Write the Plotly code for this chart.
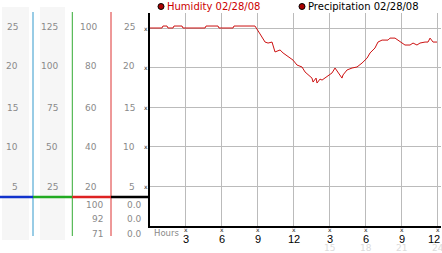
import plotly.graph_objects as go

W, H = 442, 253

# ---- data ----
hours = [0.0, 1.04, 1.12, 1.46, 1.54, 1.96, 2.04, 2.71, 2.79, 4.63, 4.71, 5.71, 5.79, 6.96, 7.04, 8.79,
         9.21, 9.63, 9.88, 10.21, 10.46, 10.88, 11.13, 11.54, 11.71, 11.96, 12.29, 12.71, 12.96, 13.21,
         13.54, 13.63, 13.88, 13.96, 14.21, 14.38, 14.79, 15.21, 15.46, 15.71, 16.04, 16.13, 16.46,
         16.88, 17.29, 17.71, 18.13, 18.38, 18.79, 19.04, 19.38, 19.88, 20.04, 20.46, 20.88, 21.29,
         21.71, 21.96, 22.29, 22.54, 22.96, 23.21, 23.38, 23.63, 23.96]
humidity = [100, 100, 101, 101, 100, 100, 101, 101, 100, 100, 101, 101, 100, 100, 101, 101,
            97, 92.9, 92.4, 92.9, 87.9, 88.9, 87.4, 85.4, 84.8, 83.8, 81.3, 80.3, 77.8, 76.3,
            74.7, 72.7, 74.7, 72.2, 74.2, 73.7, 75.3, 77.3, 79.8, 77.3, 74.7, 76.3, 78.8,
            79.8, 80.3, 82.3, 84.8, 87.4, 89.9, 92.9, 93.9, 93.9, 94.9, 94.9, 92.9, 91.4,
            91.4, 92.4, 91.4, 92.4, 92.9, 92.9, 94.9, 92.9, 92.9]

x_ticks = [3, 6, 9, 12, 15, 18, 21, 24]
x_tick_labels = ["3", "6", "9", "12", "3", "6", "9", "12"]
x_faint_ticks = [15, 18, 21, 24]
x_faint_labels = ["15", "18", "21", "24"]
y_ticks = [20, 40, 60, 80, 100]

col1_labels = ["25", "20", "15", "10", "5"]
col2_labels = ["125", "100", "75", "50", "25"]
col3_labels = ["100", "80", "60", "40", "20"]
col4_labels = ["25", "20", "15", "10", "5"]
humidity_stats = ["100", "92", "71"]
precip_stats = ["0.0", "0.0", "0.0"]

legend_items = ["Humidity 02/28/08", "Precipitation 02/28/08"]

# ---- helpers ----
def px(x):
    return x / W

def py(y):
    return 1 - y / H

X0, X1 = 149.5, 441.0
Y0, Y1 = 226.0, 13.0
XPX = 12.0   # px per hour
YPX = 1.98   # px per %

fig = go.Figure()
fig.add_trace(go.Scatter(x=hours, y=humidity, mode="lines",
                         line=dict(color="#cc1111", width=1), hoverinfo="skip"))

shapes = []
ann = []
GRAY = "#8a8a8a"
LBL = dict(family="DejaVu Sans", size=9, color=GRAY)
MARK = dict(family="DejaVu Sans", size=6, color="#222")

# gray backgrounds of left columns
shapes.append(dict(type="rect", xref="paper", yref="paper", x0=px(2), x1=px(29), y0=py(240), y1=py(7),
                   fillcolor="#f6f6f6", line=dict(width=0), layer="below"))
shapes.append(dict(type="rect", xref="paper", yref="paper", x0=px(40), x1=px(65), y0=py(240), y1=py(7),
                   fillcolor="#f6f6f6", line=dict(width=0), layer="below"))
# colored vertical separators
for xx, col in [(33, "#3399cc"), (72.3, "#33aa33"), (111, "#dd3333")]:
    shapes.append(dict(type="line", xref="paper", yref="paper", x0=px(xx), x1=px(xx), y0=py(236), y1=py(12),
                       line=dict(color=col, width=1)))
# horizontal separator segments
for xa, xb, col in [(0, 33, "#1133cc"), (33, 72.3, "#22aa22"), (72.3, 111, "#dd2222"), (111, 149.5, "#000000")]:
    shapes.append(dict(type="line", xref="paper", yref="paper", x0=px(xa), x1=px(xb), y0=py(197), y1=py(197),
                       line=dict(color=col, width=2.5)))

label_y = [26, 65, 106.5, 146, 186]
for labels, xr in [(col1_labels, 20), (col2_labels, 60), (col3_labels, 99), (col4_labels, 137)]:
    for t, yy in zip(labels, label_y):
        ann.append(dict(text=t, xref="paper", yref="paper", x=px(xr), y=py(yy + 1), xanchor="right",
                        yanchor="middle", showarrow=False, font=LBL))
stat_y = [204, 218.3, 232.5]
for labels, xr in [(humidity_stats, 105), (precip_stats, 144)]:
    for t, yy in zip(labels, stat_y):
        ann.append(dict(text=t, xref="paper", yref="paper", x=px(xr), y=py(yy + 1), xanchor="right",
                        yanchor="middle", showarrow=False, font=LBL))

# y-axis tick marks (small symbols left of the axis)
for v in y_ticks:
    ann.append(dict(text="x", xref="paper", yref="y", x=px(145.5), y=v, xanchor="center", yanchor="middle",
                    showarrow=False, font=MARK))
# x-axis tick marks and labels
for i, (v, t) in enumerate(zip(x_ticks, x_tick_labels)):
    ann.append(dict(text="x", xref="x", yref="paper", x=v, y=py(229.5), xanchor="center", yanchor="middle",
                    showarrow=False, font=MARK))
    last = i == len(x_ticks) - 1
    ann.append(dict(text=t, xref="paper" if last else "x", yref="paper",
                    x=px(441.5) if last else v, y=py(238.5),
                    xanchor="right" if last else "center", yanchor="middle",
                    showarrow=False,
                    font=dict(family="Liberation Sans", size=11, color="#000")))
for v, t in zip(x_faint_ticks, x_faint_labels):
    ann.append(dict(text=t, xref="x", yref="paper", x=v, y=py(248), xanchor="center", yanchor="middle",
                    showarrow=False, font=dict(family="DejaVu Sans", size=9, color="#dcdcdc")))
ann.append(dict(text="Hours", xref="paper", yref="paper", x=px(152), y=py(232.5), xanchor="left", yanchor="middle",
                showarrow=False, font=dict(family="DejaVu Sans", size=8.5, color=GRAY)))

# legend
for (dx, tx), t, tc in zip([(161, 165), (302, 306)], legend_items, ["#cc0000", "#000000"]):
    shapes.append(dict(type="circle", xref="paper", yref="paper", x0=px(dx - 3), x1=px(dx + 3),
                       y0=py(9.5), y1=py(3.5), fillcolor="#aa0000", line=dict(color="#000", width=1)))
    ann.append(dict(text=t, xref="paper", yref="paper", x=px(tx), y=py(7), xanchor="left", yanchor="middle",
                    showarrow=False, font=dict(family="DejaVu Sans", size=10, color=tc)))

fig.update_layout(
    width=W, height=H, margin=dict(l=0, r=0, t=0, b=0),
    paper_bgcolor="white", plot_bgcolor="white", showlegend=False,
    shapes=shapes, annotations=ann,
    xaxis=dict(domain=[px(X0), px(X1)], range=[0, (X1 - X0) / XPX], tickvals=x_ticks, showticklabels=False,
               ticks="", showgrid=True, gridcolor="#bbbbbb", gridwidth=1, showline=True, linecolor="#000",
               linewidth=2, zeroline=False, fixedrange=True),
    yaxis=dict(domain=[py(Y0), py(Y1)], range=[0, (Y0 - Y1) / YPX], tickvals=y_ticks, showticklabels=False,
               ticks="", showgrid=True, gridcolor="#bbbbbb", gridwidth=1, showline=True, linecolor="#000",
               linewidth=2, zeroline=False, fixedrange=True),
)

fig.write_html("out.html", config={"displayModeBar": False})
